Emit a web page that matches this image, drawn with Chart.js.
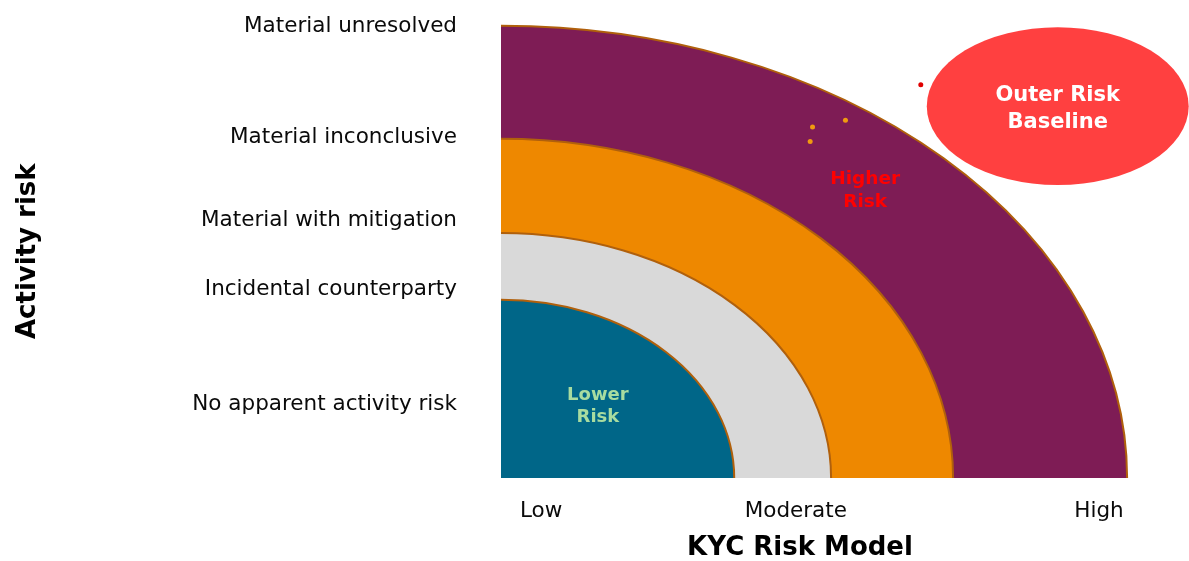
<!DOCTYPE html>
<html>
<head>
<meta charset="utf-8">
<title>KYC Risk Model</title>
<script src="https://cdn.jsdelivr.net/npm/chart.js@4.4.1/dist/chart.umd.min.js"></script>
<style>
  html, body { margin: 0; padding: 0; background: #fff; }
  #wrap { width: 1189px; height: 561px; }
</style>
</head>
<body>
<div id="wrap"><canvas id="riskChart"></canvas></div>
<script>
// axis ticks
const kycTicks = [6.7, 49.3, 100];
const kycLabels = ['Low', 'Moderate', 'High'];
const activityTicks = [16.3, 41.6, 56.7, 75.2, 99.5];
const activityLabels = [
  'No apparent activity risk',
  'Incidental counterparty',
  'Material with mitigation',
  'Material inconclusive',
  'Material unresolved'
];

// risk bands, outer to inner (extent along KYC axis / along activity axis)
const bandKyc = [104.7, 75.6, 55.2, 39.0];
const bandActivity = [99.7, 74.8, 54.0, 39.3];

// outer risk baseline bubble
const baselineCenter = [93.1, 82.0];
const baselineExtent = [21.9, 17.4];

// scattered cases
const flaggedCases = [
  { x: 52.1, y: 77.4 },
  { x: 57.6, y: 78.9 },
  { x: 51.7, y: 74.2 }
];
const outlierCases = [
  { x: 70.2, y: 86.7 }
];

const higherRiskText = ['Higher', 'Risk'];
const lowerRiskText = ['Lower', 'Risk'];
const baselineText = ['Outer Risk', 'Baseline'];

const FONT = '"DejaVu Sans", Verdana, sans-serif';
const bandColors = ['#7e1c55', '#ee8800', '#d9d9d9', '#006688'];

/**
 * 画同心风险带 + 基线椭圆
 */
const bandsPlugin = {
  id: 'bands',
  beforeDatasetsDraw(chart) {
    const { ctx, scales: { x, y } } = chart;
    const cx = x.getPixelForValue(0);
    const cy = y.getPixelForValue(0);
    ctx.save();

    // baseline ellipse
    const bx = x.getPixelForValue(baselineCenter[0]);
    const by = y.getPixelForValue(baselineCenter[1]);
    const brx = x.getPixelForValue(baselineCenter[0] + baselineExtent[0]) - bx;
    const bry = by - y.getPixelForValue(baselineCenter[1] + baselineExtent[1]);
    ctx.beginPath();
    ctx.ellipse(bx, by, brx, bry, 0, 0, Math.PI * 2);
    ctx.fillStyle = '#ff4040';
    ctx.fill();

    bandKyc.forEach((k, i) => {
      const rx = x.getPixelForValue(k) - cx;
      const ry = cy - y.getPixelForValue(bandActivity[i]);
      ctx.beginPath();
      ctx.moveTo(cx, cy);
      ctx.ellipse(cx, cy, rx, ry, 0, -Math.PI / 2, 0);
      ctx.closePath();
      ctx.fillStyle = bandColors[i];
      ctx.fill();
      ctx.beginPath();
      ctx.ellipse(cx, cy, rx, ry, 0, -Math.PI / 2, 0);
      ctx.strokeStyle = '#b0600c';
      ctx.lineWidth = 2;
      ctx.stroke();
    });
    ctx.restore();
  },
  afterDatasetsDraw(chart) {
    const { ctx, scales: { x, y } } = chart;
    const drawLines = (lines, vx, vy, size, gap, color) => {
      const px = x.getPixelForValue(vx);
      const py = y.getPixelForValue(vy);
      ctx.font = `bold ${size}px ${FONT}`;
      ctx.fillStyle = color;
      ctx.textAlign = 'center';
      ctx.textBaseline = 'middle';
      lines.forEach((t, i) => {
        ctx.fillText(t, px, py + (i - (lines.length - 1) / 2) * gap);
      });
    };
    ctx.save();
    drawLines(higherRiskText, 60.9, 63.4, 18.5, 23, '#ff0000');
    drawLines(lowerRiskText, 16.2, 15.9, 18, 22, '#a8dca0');
    drawLines(baselineText, baselineCenter[0], baselineCenter[1] - 0.55, 21, 27, '#ffffff');
    ctx.restore();
  }
};

new Chart(document.getElementById('riskChart'), {
  type: 'scatter',
  data: {
    datasets: [
      {
        data: flaggedCases,
        backgroundColor: '#f09a10',
        borderWidth: 0,
        pointRadius: 2.5
      },
      {
        data: outlierCases,
        backgroundColor: '#e00000',
        borderWidth: 0,
        pointRadius: 2.5
      }
    ]
  },
  options: {
    responsive: true,
    maintainAspectRatio: false,
    animation: false,
    layout: { padding: { top: 24.5, right: 90, bottom: 0, left: 0 } },
    plugins: {
      legend: { display: false },
      tooltip: { enabled: false }
    },
    scales: {
      x: {
        type: 'linear',
        min: 0,
        max: 100,
        grid: { display: false, drawTicks: false },
        border: { display: false },
        afterBuildTicks: (s) => { s.ticks = kycTicks.map(v => ({ value: v })); },
        afterFit: (s) => { s.height = 83; s.paddingLeft = 0; s.paddingRight = 0; },
        ticks: {
          padding: 21,
          color: '#0a0a0a',
          font: { family: FONT, size: 21.5 },
          callback: (v) => kycLabels[kycTicks.indexOf(v)]
        },
        title: {
          display: true,
          text: 'KYC Risk Model',
          color: '#000',
          padding: 0,
          font: { family: FONT, size: 26, weight: 'bold', lineHeight: 1 }
        }
      },
      y: {
        type: 'linear',
        min: 0,
        max: 100,
        grid: { display: false, drawTicks: false },
        border: { display: false },
        afterBuildTicks: (s) => { s.ticks = activityTicks.map(v => ({ value: v })); },
        afterFit: (s) => { s.width = 501; s.paddingTop = 0; s.paddingBottom = 0; },
        ticks: {
          padding: 44,
          color: '#0a0a0a',
          font: { family: FONT, size: 21.5 },
          callback: (v) => activityLabels[activityTicks.indexOf(v)]
        },
        title: {
          display: true,
          text: 'Activity risk',
          color: '#000',
          padding: { top: 15, bottom: 0 },
          font: { family: FONT, size: 26, weight: 'bold', lineHeight: 1 }
        }
      }
    }
  },
  plugins: [bandsPlugin]
});
</script>
</body>
</html>
